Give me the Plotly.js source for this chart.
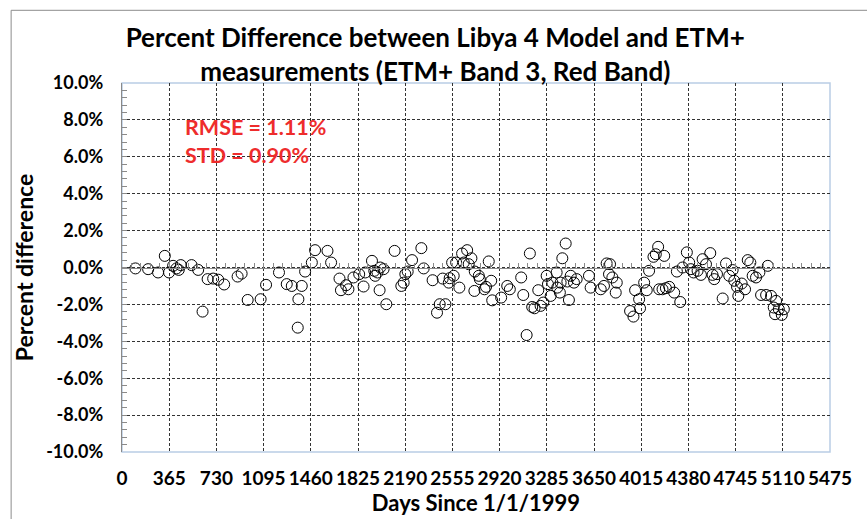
<!DOCTYPE html>
<html><head><meta charset="utf-8">
<script src="https://cdn.plot.ly/plotly-3.0.1.min.js"></script>
<style>html,body{margin:0;padding:0;background:#fff}#chart{width:867px;height:519px}</style>
</head><body><div id="chart"></div>
<script>
// Days since 1/1/1999
const days = [104,202,279,331,364,395,421,439,455,538,589,623,662,705,744,790,894,925,972,1072,1114,1214,1274,1313,1359,1364,
1390,1416,1468,1493,1589,1617,1682,1693,1733,1751,1790,1834,1868,1881,1933,1951,1958,1976,1992,1997,2023,2044,2108,2160,2178,2191,2209,2243,2315,2333,2402,2436,2457,2480,2501,2527,2534,2553,2565,2584,2609,2630,2643,2669,2681,2702,2725,2728,2759,
2767,2803,2815,2836,2855,2863,2932,2979,2999,3087,3103,3129,3154,3172,3190,3219,3237,3258,3284,3294,3315,3328,3361,3366,3386,3392,3405,3431,3444,3456,3470,3495,3516,3611,3624,3702,3727,3748,3766,3774,3792,3818,3826,3929,3955,3968,3999,4006,4038,4058,4076,4110,4128,4146,4154,
4180,4193,4206,4232,4270,4291,4317,4335,4368,4386,4399,4420,4451,4477,4490,4516,4549,4567,4580,4601,4645,4671,4696,4722,4735,4756,4766,4792,4818,4839,4859,4877,4903,4929,4942,4981,4994,5019,5040,5050,5058,5079,5102,5118];
// Percent difference (%)
const pctDiff = [-0.05,-0.09,-0.27,0.63,-0.27,0.09,-0.05,-0.13,0.13,0.13,-0.13,-2.39,-0.63,-0.60,-0.66,-0.92,-0.49,-0.33,-1.76,-1.72,-0.94,-0.27,-0.90,-1.00,-3.26,-1.72,
-1.00,-0.22,0.27,0.94,0.90,0.27,-0.60,-1.23,-0.96,-1.18,-0.54,-0.36,-1.03,-0.27,0.36,-0.18,-0.45,-0.27,-1.23,0.00,-0.09,-1.99,0.90,-1.00,-0.82,-0.36,-0.22,0.40,1.05,-0.05,-0.69,-2.45,-1.99,-0.60,-1.99,-0.82,-0.58,0.27,-0.45,0.27,-1.09,0.76,0.27,0.94,0.18,0.50,-1.27,-0.22,-0.45,
-0.63,-1.18,-1.05,0.33,-0.72,-1.78,-1.63,-1.00,-1.18,-0.54,-1.49,-3.66,0.76,-2.14,-2.21,-1.23,-2.08,-1.90,-0.45,-0.90,-1.54,-0.82,-0.27,-1.09,-1.36,-0.82,0.50,1.30,-0.76,-1.76,-0.45,-0.82,-0.63,-0.45,-1.09,-1.18,-1.00,0.22,-0.36,0.18,-0.54,-1.36,-0.82,-2.36,-2.66,-1.23,-1.72,-2.21,-0.82,-1.23,-0.18,0.58,0.72,1.12,-1.18,
-1.18,0.63,-1.12,-1.05,-1.36,-0.22,-1.87,0.00,0.82,0.27,-0.09,-0.27,-0.18,-0.40,0.45,0.18,0.78,-0.40,-0.63,-0.36,-1.68,0.22,-0.45,-0.14,-0.72,-1.05,-1.54,-0.87,-1.18,0.40,0.27,-0.45,-0.54,-0.27,-1.49,-1.49,0.09,-1.54,-2.17,-2.53,-1.81,-2.26,-2.57,-2.26];

const xTickVals = [0,365,730,1095,1460,1825,2190,2555,2920,3285,3650,4015,4380,4745,5110,5475];
const yTickVals = [-10,-8,-6,-4,-2,0,2,4,6,8,10];
const yTickText = ['-10.0%','-8.0%','-6.0%','-4.0%','-2.0%','0.0%','2.0%','4.0%','6.0%','8.0%','10.0%'];
const statLines = ['RMSE = 1.11%','STD = 0.90%'];

const FONT = 'Lato, "Open Sans", sans-serif';

const traces = [
  {x: days, y: pctDiff, type: 'scatter', mode: 'markers',
   marker: {symbol: 'circle-open', size: 11, color: '#000', line: {width: 1, color: '#000'}},
   showlegend: false, hoverinfo: 'x+y'},
  {x: [null], y: [null], xaxis: 'x2', yaxis: 'y', type: 'scatter', mode: 'markers', showlegend: false, hoverinfo: 'skip'}
];

const layout = {
  width: 867, height: 519,
  margin: {l: 122, r: 37, t: 83, b: 67},
  paper_bgcolor: '#fff', plot_bgcolor: '#fff',
  font: {family: FONT, color: '#000'},
  title: {text: 'Percent Difference between Libya 4 Model and ETM+<br>measurements (ETM+ Band 3, Red Band)',
          font: {family: FONT, size: 26, color: '#000', weight: 'bold'},
          x: 0.502, xref: 'container', xanchor: 'center', y: 0.909, yref: 'container', yanchor: 'middle'},
  xaxis: {range: [0, 5475], tickvals: xTickVals, ticktext: xTickVals.map(String),
          ticks: '', ticklabelstandoff: 13,
          tickfont: {family: FONT, size: 19, weight: 'bold', color: '#000'},
          showgrid: true, gridcolor: '#333', gridwidth: 1, griddash: '3px,2px',
          zeroline: false, showline: false,
          title: {text: 'Days Since 1/1/1999', font: {family: FONT, size: 22, weight: 'bold', color: '#000'}, standoff: 4}},
  xaxis2: {overlaying: 'x', anchor: 'free', position: 0.5, range: [0, 5475],
           showline: true, linecolor: '#8a8a8a', linewidth: 1.2,
           ticks: 'inside', tick0: 0, dtick: 73, ticklen: 5, tickcolor: '#8a8a8a', tickwidth: 1,
           showticklabels: false, showgrid: false, zeroline: false},
  yaxis: {range: [-10, 10], tickvals: yTickVals, ticktext: yTickText,
          ticks: 'inside', ticklen: 5, tickcolor: '#8a8a8a', ticklabelstandoff: 14,
          minor: {dtick: 0.4, tick0: 0, ticks: 'inside', ticklen: 5, tickcolor: '#8a8a8a', showgrid: false},
          tickfont: {family: FONT, size: 18, weight: 'bold', color: '#000'},
          showgrid: true, gridcolor: '#333', gridwidth: 1, griddash: '3px,2px',
          zeroline: false, showline: true, linecolor: '#8a8a8a', linewidth: 1.2,
          title: {text: 'Percent difference', font: {family: FONT, size: 23, weight: 'bold', color: '#000'}, standoff: 6}},
  shapes: [
    {type: 'rect', xref: 'paper', yref: 'paper', x0: 0, x1: 1, y0: 0, y1: 1,
     line: {color: '#b9cde5', width: 1.5}, layer: 'below'},
    {type: 'rect', xref: 'paper', yref: 'paper', x0: -0.1566, x1: 1.2, y0: -0.3, y1: 1.197,
     line: {color: '#8c8c8c', width: 1}, layer: 'below'}
  ],
  annotations: statLines.map((t, i) => ({
    text: t, xref: 'paper', yref: 'paper', x: 0.086, y: 0.882 - i * 0.076,
    xanchor: 'left', yanchor: 'middle', showarrow: false,
    font: {family: FONT, size: 21.5, weight: 'bold', color: '#ee2c2c'}
  }))
};

Plotly.newPlot('chart', traces, layout, {displayModeBar: false, staticPlot: true});
</script>
</body></html>
